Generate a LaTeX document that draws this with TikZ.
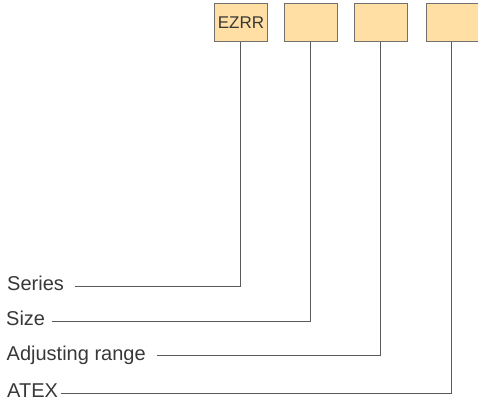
\documentclass[tikz,border=0pt]{standalone}
\usepackage{fontspec}
\setmainfont{Liberation Sans}
\definecolor{boxfill}{HTML}{FFDFA3}
\definecolor{boxline}{HTML}{707070}
\definecolor{conn}{HTML}{5A5A5A}
\definecolor{txt}{HTML}{383838}
\begin{document}
\begin{tikzpicture}[x=1bp,y=1bp,
  codebox/.style={draw=boxline,fill=boxfill,line width=1bp,minimum width=53.4bp,minimum height=37.3bp,inner sep=0,text=txt,font=\fontsize{17bp}{20bp}\selectfont},
  lab/.style={anchor=base west,inner sep=0,text=txt,font=\fontsize{20bp}{24bp}\selectfont},
  conline/.style={draw=conn,line width=1bp}]
\useasboundingbox (0,0) rectangle (478,401);
\clip (0,0) rectangle (478,401);
\node[codebox] (b1) at (241,378.35) {EZRR};
\node[codebox] (b2) at (311,378.35) {};
\node[codebox] (b3) at (381,378.35) {};
\node[codebox] (b4) at (453.4,378.35) {};
\node[lab] (l1) at (7,110.3) {Series};
\node[lab] (l2) at (6,76) {Size};
\node[lab] (l3) at (6.5,41) {Adjusting range};
\node[lab] (l4) at (7,4) {ATEX};
\coordinate (s1) at (75,114.3);
\coordinate (s2) at (51.7,79.7);
\coordinate (s3) at (156.7,45.7);
\coordinate (s4) at (61,7.7);
\draw[conline] (s1) -| ([xshift=-0.7bp]b1.south);
\draw[conline] (s2) -| ([xshift=-0.7bp]b2.south);
\draw[conline] (s3) -| ([xshift=-0.7bp]b3.south);
\draw[conline] (s4) -| ([xshift=-1.7bp]b4.south);
\end{tikzpicture}
\end{document}
